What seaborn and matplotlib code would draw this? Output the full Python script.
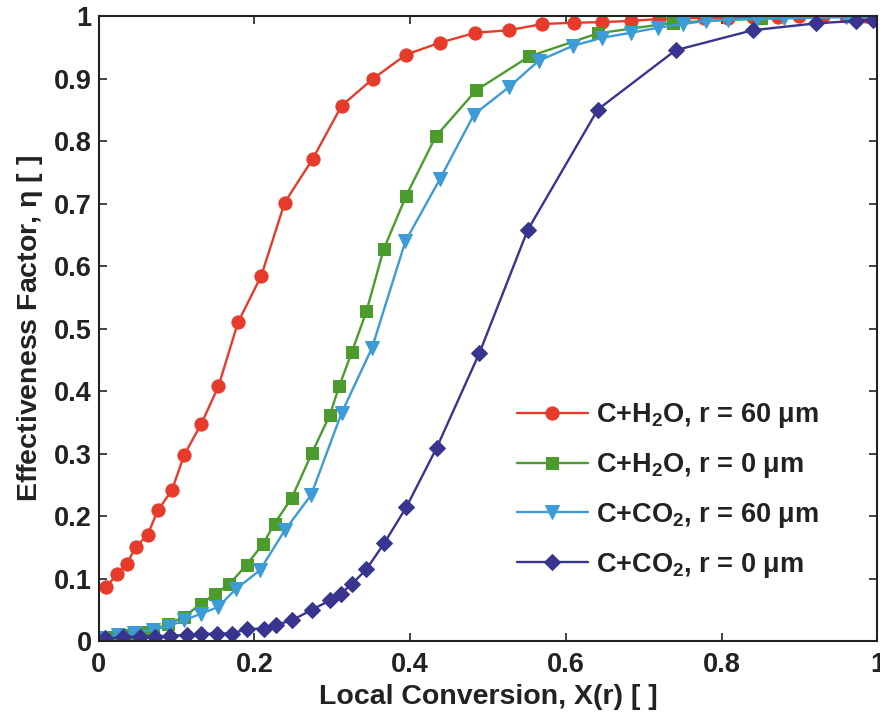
import matplotlib
matplotlib.use("Agg")
import matplotlib.pyplot as plt
import seaborn as sns
import pandas as pd

sns.set_theme(style="ticks")
plt.rcParams['font.family'] = ['Liberation Sans', 'DejaVu Sans']
plt.rcParams['mathtext.fontset'] = 'custom'
plt.rcParams['mathtext.rm'] = 'Liberation Sans:bold'
plt.rcParams['mathtext.it'] = 'Liberation Sans:bold'
plt.rcParams['mathtext.bf'] = 'Liberation Sans:bold'

# C+H2O, r = 60 um
x_h2o_60 = [0.010, 0.024, 0.036, 0.048, 0.063, 0.076, 0.094, 0.110, 0.132, 0.154, 0.179,
            0.209, 0.239, 0.275, 0.312, 0.352, 0.395, 0.438, 0.484, 0.527, 0.570, 0.610,
            0.647, 0.684, 0.719, 0.750, 0.778, 0.808, 0.840, 0.872, 0.900, 0.930, 0.960, 0.985, 1.0]
y_h2o_60 = [0.087, 0.107, 0.123, 0.151, 0.170, 0.209, 0.241, 0.298, 0.348, 0.408, 0.510,
            0.585, 0.702, 0.772, 0.857, 0.900, 0.939, 0.958, 0.974, 0.978, 0.988, 0.990,
            0.991, 0.993, 0.996, 0.997, 0.998, 0.998, 0.999, 0.999, 1.0, 1.0, 1.0, 1.0, 1.0]

# C+H2O, r = 0 um
x_h2o_0 = [0.003, 0.020, 0.038, 0.055, 0.070, 0.089, 0.110, 0.131, 0.149, 0.168, 0.190,
           0.211, 0.226, 0.248, 0.274, 0.297, 0.309, 0.325, 0.344, 0.366, 0.395, 0.433,
           0.485, 0.553, 0.641, 0.737, 0.850, 0.970, 1.0]
y_h2o_0 = [0.002, 0.006, 0.010, 0.014, 0.018, 0.027, 0.039, 0.059, 0.075, 0.091, 0.122,
           0.155, 0.188, 0.229, 0.301, 0.362, 0.408, 0.462, 0.528, 0.627, 0.713, 0.808,
           0.882, 0.936, 0.973, 0.990, 0.997, 1.0, 1.0]

# C+CO2, r = 60 um
x_co2_60 = [0.003, 0.025, 0.046, 0.070, 0.090, 0.110, 0.132, 0.153, 0.177, 0.207, 0.239,
            0.273, 0.312, 0.351, 0.394, 0.438, 0.482, 0.527, 0.565, 0.609, 0.647, 0.684,
            0.718, 0.750, 0.780, 0.808, 0.845, 0.880, 0.920, 0.960, 1.0]
y_co2_60 = [0.005, 0.009, 0.013, 0.018, 0.024, 0.033, 0.044, 0.054, 0.084, 0.113, 0.177,
            0.234, 0.365, 0.469, 0.640, 0.739, 0.843, 0.887, 0.929, 0.953, 0.966, 0.974,
            0.982, 0.988, 0.993, 0.995, 0.996, 0.997, 0.998, 0.999, 0.999]

# C+CO2, r = 0 um
x_co2_0 = [0.008, 0.031, 0.053, 0.072, 0.092, 0.113, 0.132, 0.152, 0.171, 0.191, 0.212,
           0.228, 0.248, 0.274, 0.297, 0.311, 0.326, 0.344, 0.367, 0.395, 0.434, 0.489,
           0.551, 0.641, 0.741, 0.840, 0.921, 0.973, 0.994]
y_co2_0 = [0.004, 0.006, 0.007, 0.007, 0.008, 0.010, 0.011, 0.012, 0.012, 0.019, 0.020,
           0.026, 0.033, 0.050, 0.065, 0.076, 0.092, 0.115, 0.157, 0.214, 0.309, 0.461,
           0.658, 0.851, 0.946, 0.978, 0.989, 0.993, 0.995]

labels = [r'C+H$_2$O, r = 60 $\mathregular{\mu}$m',
          r'C+H$_2$O, r = 0 $\mathregular{\mu}$m',
          r'C+CO$_2$, r = 60 $\mathregular{\mu}$m',
          r'C+CO$_2$, r = 0 $\mathregular{\mu}$m']
colors = ['#e63b2b', '#4c9b2d', '#3d9bd6', '#39348f']
markers = ['o', 's', 'v', 'D']
msizes = [9.5, 9, 9.5, 8]

series = [(x_h2o_60, y_h2o_60), (x_h2o_0, y_h2o_0), (x_co2_60, y_co2_60), (x_co2_0, y_co2_0)]
frames = []
for lab, (xs, ys) in zip(labels, series):
    frames.append(pd.DataFrame({'x': xs, 'y': ys, 'series': lab}))
df = pd.concat(frames, ignore_index=True)

fig = plt.figure(figsize=(8.8, 7.17), dpi=100)
ax = fig.add_axes([0.112, 0.106, 0.885, 0.871])

for lab, col, mk, ms in zip(labels, colors, markers, msizes):
    sub = df[df['series'] == lab]
    sns.lineplot(data=sub, x='x', y='y', ax=ax, color=col, marker=mk, markersize=ms,
                 markeredgecolor=col, markerfacecolor=col, linewidth=1.7, label=lab,
                 sort=False, estimator=None)

ax.set_xlim(0, 1)
ax.set_ylim(0, 1)
ax.set_xticks([0, 0.2, 0.4, 0.6, 0.8, 1])
ax.set_xticklabels(['0', '0.2', '0.4', '0.6', '0.8', '1'])
ax.set_yticks([0, 0.1, 0.2, 0.3, 0.4, 0.5, 0.6, 0.7, 0.8, 0.9, 1])
ax.set_yticklabels(['0', '0.1', '0.2', '0.3', '0.4', '0.5', '0.6', '0.7', '0.8', '0.9', '1'])
ax.tick_params(axis='both', direction='in', length=6, width=1.2, labelsize=19.5,
               top=True, right=True, colors='#222222')
ax.tick_params(axis='x', pad=8)
ax.tick_params(axis='y', pad=5)
for lbl in ax.get_xticklabels() + ax.get_yticklabels():
    lbl.set_fontweight('bold')
for sp in ax.spines.values():
    sp.set_linewidth(1.5)
    sp.set_color('#222222')

ax.set_xlabel('Local Conversion, X(r) [ ]', fontsize=20.5, fontweight='bold', labelpad=4, color='#222222')
ax.set_ylabel(r'Effectiveness Factor, $\eta$ [ ]', fontsize=20.5, fontweight='bold', labelpad=6, color='#222222')

leg = ax.legend(loc='upper left', bbox_to_anchor=(0.5375, 0.384), frameon=False,
                fontsize=19.5, handlelength=2.6, handletextpad=0.3, labelspacing=0.77,
                borderaxespad=0, borderpad=0)
for t in leg.get_texts():
    t.set_fontweight('bold')
    t.set_color('#222222')

fig.savefig('out.png', dpi=100)
